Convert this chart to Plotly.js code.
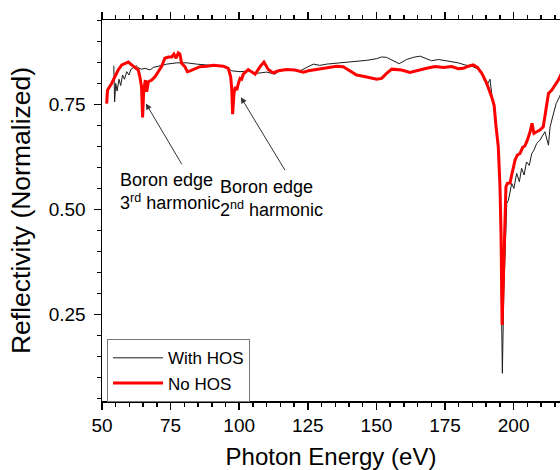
<!DOCTYPE html>
<html>
<head>
<meta charset="utf-8">
<script src="https://cdn.plot.ly/plotly-3.0.1.min.js"></script>
<style>html,body{margin:0;padding:0;background:#fff;overflow:hidden;}#chart{width:560px;height:470px;}</style>
</head>
<body>
<div id="chart"></div>
<script>
// With HOS (black, thin)
const withHosE = [54.3,54.6,55.0,55.5,56.2,56.8,57.5,58.2,59.0,59.8,60.6,61.5,62.5,63.5,64.5,65.7,67.5,68.7,70.5,73.6,77.2,80.9,84.5,88.2,91.8,94.8,97.3,100.3,103.9,106.4,110.0,113.0,114.9,118.5,122.2,125.2,127.0,129.4,131.9,136.7,141.6,146.5,150.1,151.9,153.7,156.2,158.3,161.0,163.4,165.9,167.7,170.1,172.6,175.0,177.4,179.8,182.3,184.7,186.5,188.4,190.2,191.4,192.0,192.8,193.6,194.4,195.0,195.5,195.9,196.4,196.9,197.5,198.1,199.3,200.1,201.1,202.1,202.9,203.8,204.7,205.7,206.6,207.4,208.4,209.6,211.4,212.7,213.3,214.2,215.5,216.7,217.5];
const withHosR = [0.842,0.756,0.800,0.782,0.810,0.795,0.820,0.810,0.828,0.820,0.834,0.838,0.842,0.836,0.834,0.836,0.832,0.838,0.841,0.846,0.849,0.849,0.846,0.844,0.841,0.840,0.830,0.828,0.830,0.824,0.827,0.822,0.832,0.833,0.830,0.841,0.846,0.843,0.846,0.849,0.852,0.855,0.859,0.863,0.862,0.854,0.847,0.857,0.862,0.865,0.860,0.854,0.857,0.854,0.851,0.849,0.844,0.841,0.836,0.824,0.795,0.810,0.776,0.740,0.690,0.640,0.540,0.350,0.110,0.300,0.427,0.514,0.522,0.562,0.550,0.586,0.566,0.598,0.582,0.613,0.605,0.633,0.641,0.657,0.665,0.685,0.653,0.697,0.720,0.752,0.768,0.780];
// No HOS (red, thick)
const noHosE = [51.7,52.0,53.5,54.7,55.9,57.2,58.4,59.6,60.8,62.0,63.2,63.8,64.4,64.8,65.2,65.8,66.3,66.9,68.1,69.3,70.5,71.7,72.9,74.2,75.4,76.2,77.0,77.8,78.4,79.0,80.2,81.1,82.1,83.9,85.7,88.2,90.6,94.2,96.0,96.9,97.3,97.6,98.1,98.6,99.1,99.7,100.3,100.9,101.5,103.3,104.6,105.8,107.6,109.0,110.6,112.4,114.3,117.3,120.3,123.4,125.2,128.2,131.9,135.5,137.9,140.3,142.8,145.2,147.7,150.1,151.9,153.7,155.6,157.4,159.2,162.2,165.3,168.3,171.4,174.4,177.4,179.8,181.7,183.5,185.3,186.8,188.4,190.2,192.0,192.9,193.6,194.4,195.0,195.4,195.8,196.6,197.2,197.7,198.7,199.3,200.5,201.3,202.3,203.3,204.1,205.0,206.0,206.7,207.4,208.4,209.6,210.8,211.8,212.7,213.9,215.1,216.3,217.5];
const noHosR = [0.752,0.784,0.800,0.816,0.832,0.844,0.848,0.851,0.844,0.838,0.832,0.816,0.792,0.719,0.784,0.808,0.780,0.804,0.808,0.816,0.828,0.840,0.860,0.863,0.863,0.870,0.860,0.873,0.870,0.848,0.840,0.828,0.830,0.836,0.840,0.841,0.843,0.841,0.836,0.816,0.784,0.727,0.776,0.792,0.784,0.800,0.812,0.810,0.822,0.833,0.828,0.822,0.840,0.851,0.833,0.825,0.830,0.833,0.832,0.827,0.830,0.833,0.838,0.841,0.840,0.830,0.820,0.817,0.814,0.810,0.812,0.824,0.834,0.833,0.832,0.826,0.832,0.836,0.840,0.838,0.840,0.835,0.836,0.841,0.844,0.838,0.824,0.800,0.768,0.748,0.697,0.650,0.560,0.450,0.225,0.427,0.554,0.562,0.563,0.582,0.617,0.629,0.633,0.648,0.651,0.665,0.685,0.705,0.681,0.685,0.689,0.697,0.736,0.776,0.784,0.796,0.808,0.825];

const seriesNames = ['With HOS', 'No HOS'];
const xTickVals = [50,75,100,125,150,175,200];
const xTickText = ['50','75','100','125','150','175','200'];
const yTickVals = [0.25,0.50,0.75];
const yTickText = ['0.25','0.50','0.75'];
const noteTexts = ['Boron edge<br>3<sup>rd</sup> harmonic', 'Boron edge<br>2<sup>nd</sup> harmonic'];

const FONT = '"Liberation Sans", Arial, sans-serif';

const traces = [
  {x: withHosE, y: withHosR, name: seriesNames[0], type: 'scatter', mode: 'lines',
   line: {color: '#1a1a1a', width: 1}},
  {x: noHosE, y: noHosR, name: seriesNames[1], type: 'scatter', mode: 'lines',
   line: {color: '#ff0000', width: 3}}
];

const axisCommon = {
  showline: true, linecolor: '#000', linewidth: 1.5,
  ticks: 'outside', ticklen: 7, tickwidth: 1.5, tickcolor: '#000',
  showgrid: false, zeroline: false,
  tickfont: {family: FONT, size: 19, color: '#000'}
};

const layout = {
  width: 560, height: 470,
  margin: {l: 102, r: 0, t: 20, b: 69},
  paper_bgcolor: '#fff', plot_bgcolor: '#fff',
  font: {family: FONT, color: '#000'},
  showlegend: true,
  legend: {x: 0.011, y: 0.162, xanchor: 'left', yanchor: 'top',
           bordercolor: '#777', borderwidth: 1, bgcolor: '#fff',
           font: {family: FONT, size: 17, color: '#000'},
           itemwidth: 50, entrywidth: 165, entrywidthmode: 'pixels', tracegroupgap: 0},
  xaxis: Object.assign({}, axisCommon, {
    range: [50, 216.9], tickmode: 'array', tickvals: xTickVals, ticktext: xTickText,
    mirror: 'ticks', ticklabelstandoff: 0,
    minor: {tickmode: 'linear', tick0: 0, dtick: 5, ticks: 'outside', ticklen: 4, tickcolor: '#000', tickwidth: 1.5},
    title: {text: 'Photon Energy (eV)', font: {family: FONT, size: 24, color: '#000'}, standoff: 14}
  }),
  yaxis: Object.assign({}, axisCommon, {
    range: [0.044, 0.951], tickmode: 'array', tickvals: yTickVals, ticktext: yTickText,
    mirror: false, ticklabelstandoff: 4,
    minor: {tickmode: 'linear', tick0: 0, dtick: 0.05, ticks: 'outside', ticklen: 4, tickcolor: '#000', tickwidth: 1.5},
    title: {text: 'Reflectivity (Normalized)', font: {family: FONT, size: 26.5, color: '#000'}, standoff: 10}
  }),
  annotations: [
    {xref: 'x', yref: 'y', x: 55.8, y: 0.598, xanchor: 'left', yanchor: 'top', align: 'left',
     text: noteTexts[0], showarrow: false, font: {family: FONT, size: 18, color: '#000'}},
    {xref: 'x', yref: 'y', x: 92.3, y: 0.582, xanchor: 'left', yanchor: 'top', align: 'left',
     text: noteTexts[1], showarrow: false, font: {family: FONT, size: 18, color: '#000'}},
    {xref: 'x', yref: 'y', x: 66.0, y: 0.752, axref: 'x', ayref: 'y', ax: 79.4, ay: 0.604,
     text: '', showarrow: true, arrowhead: 2, arrowsize: 1.2, arrowwidth: 1, arrowcolor: '#333'},
    {xref: 'x', yref: 'y', x: 100.6, y: 0.767, axref: 'x', ayref: 'y', ax: 117.0, ay: 0.590,
     text: '', showarrow: true, arrowhead: 2, arrowsize: 1.2, arrowwidth: 1, arrowcolor: '#333'}
  ]
};

Plotly.newPlot('chart', traces, layout, {displayModeBar: false, staticPlot: true});
</script>
</body>
</html>
